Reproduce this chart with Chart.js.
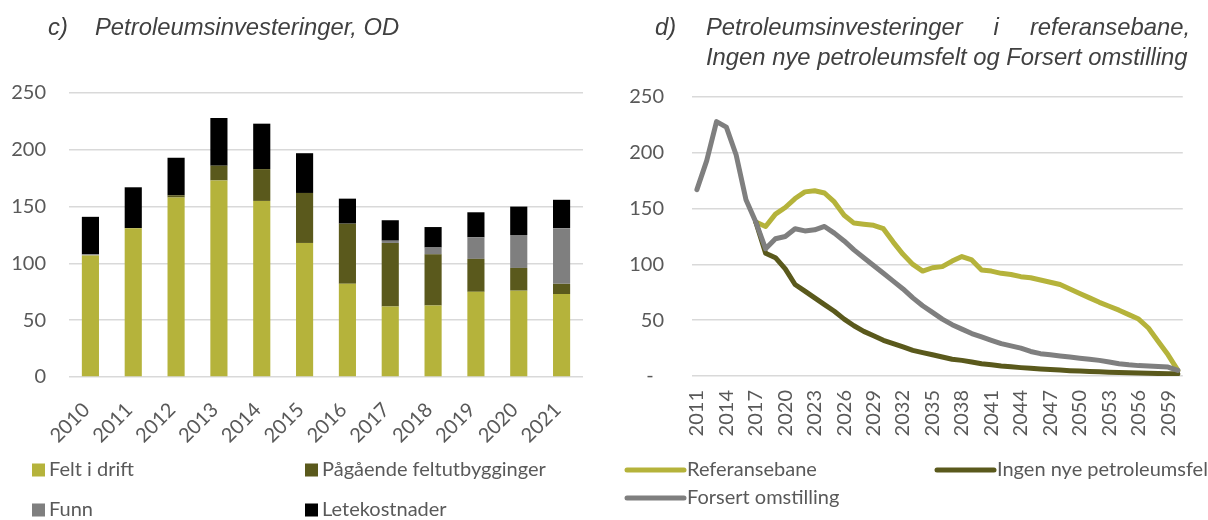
<!DOCTYPE html>
<html><head><meta charset="utf-8">
<script src="https://cdn.jsdelivr.net/npm/chart.js@4.4.1/dist/chart.umd.min.js"></script>
<style>
html,body{margin:0;padding:0;background:#fff;}
#wrap{position:relative;width:1208px;height:520px;overflow:hidden;}
canvas{position:absolute;top:0;}
.t{position:absolute;font-family:'Liberation Sans',Arial,sans-serif;font-style:italic;font-size:23.8px;line-height:30px;color:#404040;white-space:nowrap;}
</style></head><body>
<div id="wrap">
<canvas id="c1" width="600" height="520" style="left:0"></canvas>
<canvas id="c2" width="608" height="520" style="left:600px"></canvas>
<div class="t" style="left:48px;top:12px">c)</div>
<div class="t" style="left:95px;top:12px">Petroleumsinvesteringer, OD</div>
<div class="t" style="left:655px;top:12px">d)</div>
<div class="t" style="left:706px;top:12px;width:484px;display:flex;justify-content:space-between"><span>Petroleumsinvesteringer</span><span>i</span><span>referansebane,</span></div>
<div class="t" style="left:706px;top:42px">Ingen nye petroleumsfelt og Forsert omstilling</div>
</div>
<script>
// ---- Data: chart c) ----
const barYears = ['2010','2011','2012','2013','2014','2015','2016','2017','2018','2019','2020','2021'];
const feltIDrift = [107, 131, 158, 173, 155, 118, 82, 62, 63, 75, 76, 73];
const pagaende   = [0, 0, 2, 13, 28, 44, 53, 56, 45, 29, 20, 9];
const funn       = [1, 0, 0, 0, 0, 0, 0, 2, 6, 19, 29, 49];
const letekost   = [33, 36, 33, 42, 40, 35, 22, 18, 18, 22, 25, 25];
const barLabels  = ['Felt i drift', 'Pågående feltutbygginger', 'Funn', 'Letekostnader'];

// ---- Data: chart d) ----
const lineYears = ['2011','2012','2013','2014','2015','2016','2017','2018','2019','2020',
  '2021','2022','2023','2024','2025','2026','2027','2028','2029','2030',
  '2031','2032','2033','2034','2035','2036','2037','2038','2039','2040',
  '2041','2042','2043','2044','2045','2046','2047','2048','2049','2050',
  '2051','2052','2053','2054','2055','2056','2057','2058','2059','2060'];
const referansebane = [null,null,null,null,null,null,138,134,145,151,
  159,165,166,164,156,144,137,136,135,132,
  120,109,100,94,97,98,103,107,104,95,
  94,92,91,89,88,86,84,82,78,74,
  70,66,62.5,59,55,51,43,31,19,5];
const ingenNye = [null,null,null,null,null,null,138,110,106,96,
  82,76,70,64,58,51,45,40,36,32,
  29,26,23,21,19,17,15,14,12.5,11,
  10,9,8.2,7.5,6.9,6.3,5.8,5.3,4.8,4.4,
  4,3.7,3.4,3.1,2.9,2.7,2.5,2.3,2.1,2];
const forsert = [167,193,228,223,198,158,138,114,123,125,
  132,130,131,134,128,121,113,106,99,92,
  85,78,70,63,57,51,46,42,38,35,
  32,29,27,25,22,20,19,18,17,16,
  15,14,12.5,11,10,9.3,9,8.5,8,5];
const lineLabels = ['Referansebane', 'Ingen nye petroleumsfelt', 'Forsert omstilling'];

// ---- Styles ----
const YELLOW = '#b5b33b', DARK = '#5a591c', GREY = '#7f7f7f', BLACK = '#000000';
const TEXT = '#595959', GRID = '#d9d9d9';
Chart.defaults.font.family = 'Lato, "Open Sans", sans-serif';
Chart.defaults.color = TEXT;

const gridLegend = {
  id: 'gridLegend',
  afterDraw(chart, args, o) {
    const ctx = chart.ctx;
    ctx.save();
    ctx.font = o.font;
    ctx.textBaseline = 'middle';
    ctx.textAlign = 'left';
    chart.data.datasets.forEach((ds, i) => {
      const x = o.columns[i % o.columns.length];
      const y = o.rows[Math.floor(i / o.columns.length)];
      let tx;
      if (o.kind === 'box') {
        ctx.fillStyle = ds.backgroundColor;
        ctx.fillRect(x, y - o.size / 2, o.size, o.size);
        tx = x + o.size + o.gap;
      } else {
        ctx.strokeStyle = ds.borderColor;
        ctx.lineWidth = o.lineWidth;
        ctx.lineCap = 'round';
        ctx.beginPath(); ctx.moveTo(x, y); ctx.lineTo(x + o.size, y); ctx.stroke();
        tx = x + o.size + o.gap;
      }
      ctx.fillStyle = o.color;
      ctx.fillText(ds.label, tx, y);
    });
    ctx.restore();
  }
};

new Chart(document.getElementById('c1'), {
  type: 'bar',
  data: {
    labels: barYears,
    datasets: [
      {label: barLabels[0], data: feltIDrift, backgroundColor: YELLOW},
      {label: barLabels[1], data: pagaende, backgroundColor: DARK},
      {label: barLabels[2], data: funn, backgroundColor: GREY},
      {label: barLabels[3], data: letekost, backgroundColor: BLACK}
    ]
  },
  plugins: [gridLegend],
  options: {
    responsive: false, animation: false,
    layout: {padding: {top: 93, right: 17, left: 0, bottom: 0}},
    datasets: {bar: {categoryPercentage: 1, barPercentage: 0.4}},
    plugins: {
      legend: {display: false}, tooltip: {enabled: false},
      gridLegend: {kind: 'box', font: '20px Lato', color: TEXT, columns: [32, 305], rows: [470, 510], size: 13, gap: 4}
    },
    scales: {
      x: {stacked: true, grid: {display: false}, border: {display: false},
          ticks: {font: {size: 20}, color: TEXT, minRotation: 45, maxRotation: 45, padding: 13, labelOffset: -4, autoSkip: false},
          afterFit: s => { s.height = 143; }},
      y: {stacked: true, min: 0, max: 250,
          grid: {color: GRID, lineWidth: 1.5, drawTicks: false}, border: {display: false},
          ticks: {stepSize: 50, font: {size: 20}, color: TEXT, padding: 23},
          afterFit: s => { s.width = 69; }}
    }
  }
});

new Chart(document.getElementById('c2'), {
  type: 'line',
  data: {
    labels: lineYears,
    datasets: [
      {label: lineLabels[0], data: referansebane, borderColor: YELLOW, backgroundColor: YELLOW, order: 2},
      {label: lineLabels[1], data: ingenNye, borderColor: DARK, backgroundColor: DARK, order: 1},
      {label: lineLabels[2], data: forsert, borderColor: GREY, backgroundColor: GREY, order: 0}
    ]
  },
  plugins: [gridLegend],
  options: {
    responsive: false, animation: false,
    layout: {padding: {top: 97, right: 12, left: 0, bottom: 0}},
    elements: {line: {borderWidth: 5, tension: 0, borderCapStyle: 'round', borderJoinStyle: 'round', spanGaps: false},
               point: {radius: 0, hoverRadius: 0}},
    plugins: {
      legend: {display: false}, tooltip: {enabled: false},
      gridLegend: {kind: 'line', font: '20px Lato', color: TEXT, columns: [27, 337], rows: [470, 498], size: 57, gap: 3, lineWidth: 5}
    },
    scales: {
      x: {offset: true, grid: {display: false}, border: {display: false},
          ticks: {font: {size: 20}, color: TEXT, minRotation: 90, maxRotation: 90, padding: 6, autoSkip: false,
                  callback: function(v, i) { return i % 3 === 0 ? this.getLabelForValue(v) : ''; }},
          afterFit: s => { s.height = 144; }},
      y: {min: 0, max: 250,
          grid: {color: GRID, lineWidth: 1.5, drawTicks: false}, border: {display: false},
          ticks: {stepSize: 50, font: {size: 20}, color: TEXT, padding: 28,
                  callback: v => v === 0 ? '-  ' : String(v)},
          afterFit: s => { s.width = 92; }}
    }
  }
});
</script>
</body></html>
